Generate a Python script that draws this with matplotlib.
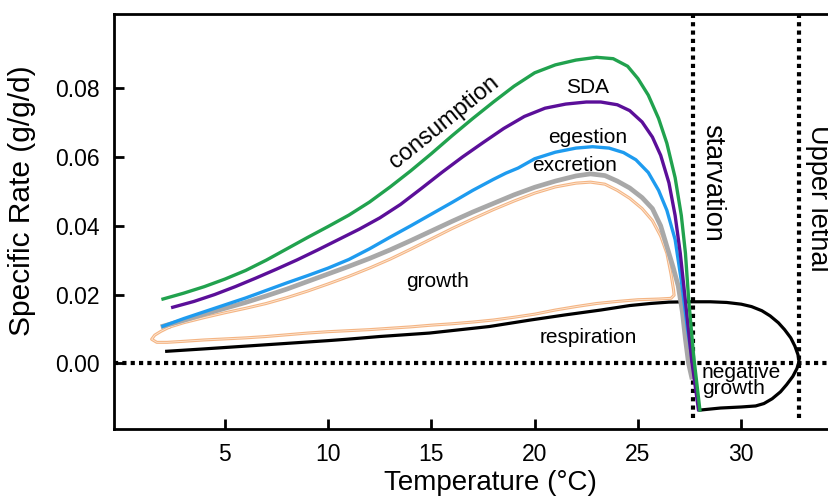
import matplotlib
matplotlib.use("Agg")
import matplotlib.pyplot as plt
import matplotlib.patheffects as pe

plt.rcParams['font.family'] = ['Liberation Sans', 'DejaVu Sans']

# consumption (green)
cons_x = [2.0, 3.0, 4.0, 5.0, 6.0, 7.0, 8.0, 9.0, 10.0, 11.0, 12.0, 13.0, 14.0, 15.0, 16.0, 17.0,
          18.0, 19.0, 20.0, 21.0, 22.0, 23.0, 23.8, 24.5, 25.0, 25.5, 26.0, 26.4, 26.8, 27.1, 27.3,
          27.45, 27.7, 28.0]
cons_y = [0.0187, 0.0204, 0.0223, 0.0245, 0.0270, 0.0300, 0.0333, 0.0366, 0.0398, 0.0431, 0.0469,
          0.0513, 0.0560, 0.0610, 0.0662, 0.0712, 0.0760, 0.0806, 0.0845, 0.0868, 0.0882, 0.0890,
          0.0886, 0.0864, 0.0828, 0.0780, 0.0712, 0.0640, 0.0540, 0.0430, 0.0320, 0.0190, 0.0020,
          -0.0136]

# SDA (purple)
sda_x = [2.47, 3.5, 4.5, 5.5, 6.5, 7.5, 8.5, 9.5, 10.5, 11.5, 12.5, 13.5, 14.5, 15.5, 16.5, 17.5,
         18.5, 19.5, 20.5, 21.5, 22.5, 23.2, 24.0, 24.6, 25.2, 25.7, 26.1, 26.5, 26.8, 27.05, 27.3,
         27.6, 27.93]
sda_y = [0.0163, 0.0180, 0.0200, 0.0223, 0.0248, 0.0274, 0.0301, 0.0330, 0.0360, 0.0390, 0.0423,
         0.0462, 0.0508, 0.0555, 0.0600, 0.0642, 0.0683, 0.0718, 0.0742, 0.0754, 0.0760, 0.0760,
         0.0752, 0.0735, 0.0702, 0.0658, 0.0605, 0.0525, 0.0430, 0.0320, 0.0180, 0.0010, -0.0135]

# egestion (blue)
eg_x = [2.0, 3.0, 4.0, 5.0, 6.0, 7.0, 8.0, 9.0, 10.0, 11.0, 12.0, 13.0, 14.0, 15.0, 16.0, 17.0,
        18.0, 18.6, 19.2, 20.0, 21.0, 22.0, 22.8, 23.6, 24.3, 24.9, 25.5, 26.0, 26.4, 26.8, 27.1,
        27.4, 27.85]
eg_y = [0.0108, 0.0130, 0.0150, 0.0170, 0.0190, 0.0212, 0.0234, 0.0255, 0.0277, 0.0302, 0.0333,
        0.0367, 0.0400, 0.0434, 0.0468, 0.0503, 0.0535, 0.0553, 0.0568, 0.0595, 0.0614, 0.0626,
        0.0630, 0.0626, 0.0613, 0.0592, 0.0555, 0.0503, 0.0445, 0.0360, 0.0240, 0.0100, -0.0080]

# excretion (grey)
ex_x = [2.0, 3.0, 4.0, 5.0, 6.0, 7.0, 8.0, 9.0, 10.0, 11.0, 12.0, 13.0, 14.0, 15.0, 16.0, 17.0,
        18.0, 19.0, 20.0, 21.0, 22.0, 22.7, 23.4, 24.0, 24.6, 25.2, 25.7, 26.1, 26.4, 26.7, 26.95,
        27.15, 27.3, 27.45, 27.6]
ex_y = [0.0108, 0.0125, 0.0143, 0.0160, 0.0177, 0.0196, 0.0216, 0.0238, 0.0260, 0.0282, 0.0305,
        0.0330, 0.0357, 0.0385, 0.0413, 0.0440, 0.0465, 0.0490, 0.0512, 0.0530, 0.0545, 0.0551,
        0.0546, 0.0530, 0.0510, 0.0482, 0.0450, 0.0400, 0.0340, 0.0280, 0.0225, 0.0150, 0.0070,
        0.0000, -0.0040]

# growth loop (orange outline): upper branch out, lower branch back
gr_x = [2.3, 3.0, 4.0, 5.0, 6.0, 7.0, 8.0, 9.0, 10.0, 11.0, 12.0, 13.0, 14.0, 15.0, 16.0, 17.0,
        18.0, 19.0, 20.0, 21.0, 22.0, 22.7, 23.4, 24.0, 24.6, 25.2, 25.7, 26.1, 26.4, 26.6, 26.72,
        26.75, 26.6, 26.0, 25.0, 24.0, 23.0, 22.0, 21.0, 20.0, 19.0, 18.0, 17.0, 16.0, 15.0, 14.0,
        13.0, 12.0, 11.0, 10.0, 9.0, 8.0, 7.0, 6.0, 5.0, 4.0, 3.0, 2.2, 1.7, 1.45, 1.6, 1.9, 2.3]
gr_y = [0.0105, 0.0118, 0.0133, 0.0147, 0.0160, 0.0174, 0.0191, 0.0210, 0.0231, 0.0253, 0.0277,
        0.0303, 0.0332, 0.0362, 0.0392, 0.0420, 0.0447, 0.0472, 0.0495, 0.0513, 0.0524, 0.0527,
        0.0521, 0.0503, 0.0480, 0.0450, 0.0415, 0.0370, 0.0320, 0.0260, 0.0215, 0.0198, 0.0189,
        0.0187, 0.0185, 0.0180, 0.0174, 0.0165, 0.0155, 0.0143, 0.0134, 0.0126, 0.0120, 0.0115,
        0.0111, 0.0106, 0.0102, 0.0098, 0.0095, 0.0092, 0.0088, 0.0083, 0.0078, 0.0074, 0.0071,
        0.0068, 0.0064, 0.0061, 0.0061, 0.0070, 0.0082, 0.0093, 0.0105]

# respiration (black)
resp_x = [2.18, 4.0, 6.0, 8.0, 10.0, 10.9, 12.5, 14.9, 17.8, 19.8, 21.5, 23.2, 24.6, 25.6, 26.5,
          27.5, 28.5, 29.3, 30.0, 30.5, 31.0, 31.4, 31.8, 32.1, 32.4, 32.6, 32.75, 32.8, 32.7,
          32.5, 32.2, 31.9, 31.5, 31.1, 30.7, 30.0, 29.0, 28.0]
resp_y = [0.0035, 0.0042, 0.0050, 0.0058, 0.0066, 0.0070, 0.0078, 0.0088, 0.0107, 0.0126, 0.0141,
          0.0155, 0.0168, 0.0174, 0.0178, 0.0179, 0.0179, 0.0177, 0.0172, 0.0165, 0.0153, 0.0138,
          0.0118, 0.0098, 0.0074, 0.0050, 0.0025, 0.0005, -0.0015, -0.0038, -0.0062, -0.0083,
          -0.0103, -0.0117, -0.0124, -0.0127, -0.0130, -0.0136]

x_ticks = [5, 10, 15, 20, 25, 30]
y_ticks = [0.00, 0.02, 0.04, 0.06, 0.08]
starve_x = 27.65
lethal_x = 32.8

fig = plt.figure(figsize=(8.29, 4.96), dpi=100)
ax = fig.add_axes([0.1375, 0.1351, 0.9083, 0.8367])
ax.set_xlim(-0.373, 36.09)
ax.set_ylim(-0.0191, 0.1016)

dots = (0, (1, 1))
ax.axhline(0, color='black', lw=3, linestyle=dots, dash_capstyle='butt', zorder=1)
ax.plot([starve_x, starve_x], [-0.0159, 0.1016], color='black', lw=3, linestyle=dots,
        dash_capstyle='butt', zorder=1, clip_on=False)
ax.plot([lethal_x, lethal_x], [-0.0159, 0.1016], color='black', lw=3, linestyle=dots,
        dash_capstyle='butt', zorder=1, clip_on=False)

ax.plot(resp_x, resp_y, color='black', lw=2.3, zorder=2, solid_joinstyle='round')
ax.plot(gr_x, gr_y, color='#f6bf91', lw=2.2, zorder=3,
        path_effects=[pe.Stroke(linewidth=2.2, foreground='#f4b584'),
                      pe.Stroke(linewidth=0.6, foreground='#fde8d6')])
ax.plot(ex_x, ex_y, color='#a8a8a8', lw=3.4, zorder=4, solid_joinstyle='round')
ax.plot(eg_x, eg_y, color='#1e9bef', lw=2.4, zorder=5, solid_joinstyle='round')
ax.plot(sda_x, sda_y, color='#5b0f99', lw=2.4, zorder=6, solid_joinstyle='round')
ax.plot(cons_x, cons_y, color='#21a24e', lw=2.4, zorder=7, solid_joinstyle='round')

ax.text(15.6, 0.0700, 'consumption', rotation=39, fontsize=17, ha='center', va='center')
ax.text(22.55, 0.0803, 'SDA', fontsize=15, ha='center', va='center')
ax.text(22.57, 0.0658, 'egestion', fontsize=15, ha='center', va='center')
ax.text(21.95, 0.0574, 'excretion', fontsize=15, ha='center', va='center')
ax.text(15.32, 0.0237, 'growth', fontsize=15, ha='center', va='center')
ax.text(22.6, 0.0074, 'respiration', fontsize=15, ha='center', va='center')
ax.text(28.1, -0.0051, 'negative\ngrowth', fontsize=15, ha='left', va='center', linespacing=0.8)
ax.text(28.6, 0.0524, 'starvation', rotation=-90, fontsize=19.5, ha='center', va='center')
ax.text(33.7, 0.0480, 'Upper lethal', rotation=-90, fontsize=19.5, ha='center', va='center')

ax.set_xticks(x_ticks)
ax.set_yticks(y_ticks)
ax.set_yticklabels(['%.2f' % v for v in y_ticks])
ax.tick_params(direction='in', length=7, width=2, labelsize=16.5, pad=10)
ax.set_xlabel('Temperature (°C)', fontsize=20, labelpad=3)
ax.set_ylabel('Specific Rate (g/g/d)', fontsize=21.5)
ax.yaxis.set_label_coords(-0.103, 0.55)

for s in ['left', 'bottom', 'top']:
    ax.spines[s].set_linewidth(2)
ax.spines['right'].set_visible(False)

fig.savefig('out.png', dpi=100)
